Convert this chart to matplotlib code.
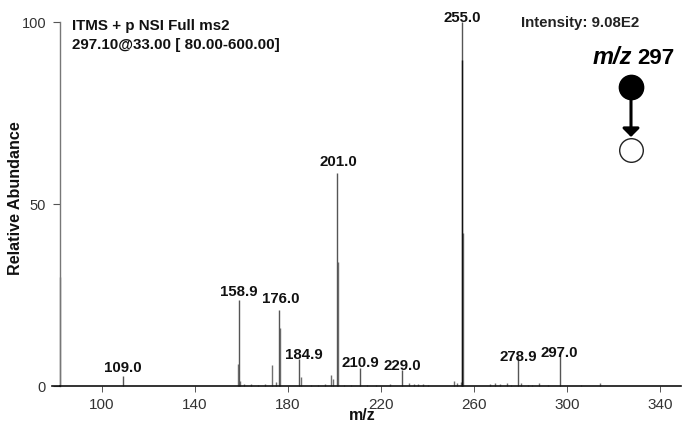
import matplotlib
matplotlib.use('Agg')
import matplotlib.pyplot as plt

plt.rcParams['font.family'] = ['Liberation Sans', 'DejaVu Sans']

W, H = 683, 425

# Picos principales (m/z, abundancia relativa)
main_mz = [109.0, 158.9, 176.0, 184.9, 201.0, 210.9, 229.0, 255.0, 278.9, 297.0]
main_int = [2.8, 23.5, 21.0, 7.5, 58.5, 5.0, 4.4, 100.0, 8.0, 9.2]
main_labels = ['109.0', '158.9', '176.0', '184.9', '201.0', '210.9', '229.0', '255.0', '278.9', '297.0']

# Picos secundarios
minor_mz = [82.0, 158.5, 159.5, 161, 164, 167, 170, 173.2, 175.0, 176.4, 185.6, 190, 193, 196,
            198.5, 199.2, 201.3, 204, 207, 214, 218, 224, 232, 234, 236, 238, 240, 251.4, 252.8,
            254.2, 255.3, 267, 269, 271, 274, 276, 280, 283, 285, 288, 292, 306, 314]
minor_int = [30.0, 6.0, 1.5, 0.5, 0.5, 0.4, 0.6, 5.8, 1.2, 16.0, 2.5, 0.4, 0.4, 0.5,
             3.0, 2.0, 34.0, 0.4, 0.4, 0.4, 0.3, 0.6, 0.7, 0.6, 0.5, 0.6, 0.4, 1.3, 0.8,
             1.2, 42.0, 0.6, 0.9, 0.6, 0.7, 0.4, 0.9, 0.4, 0.4, 0.7, 0.4, 0.4, 0.9]

# Parte oscura del pico base
dark_mz = [255.0]
dark_int = [89.5]

x_ticks = [100, 140, 180, 220, 260, 300, 340]
y_ticks = [0, 50, 100]


def fx(x):
    return x / W


def fy(y):
    return 1 - y / H


fig = plt.figure(figsize=(W / 100, H / 100), dpi=100)
ax = fig.add_axes([fx(60), fy(386), (681 - 60) / W, (386 - 22) / H])

ax.vlines(minor_mz, 0, minor_int, color='#707070', lw=1.0, clip_on=False)
ax.vlines(main_mz, 0, main_int, color='#555555', lw=1.0, clip_on=False)
ax.vlines(dark_mz, 0, dark_int, color='#111111', lw=1.0, clip_on=False)

ax.set_xlim(81.94, 349.0)
ax.set_ylim(0, 100)
ax.set_xticks(x_ticks)
ax.set_yticks(y_ticks)
ax.tick_params(axis='x', length=4.5, width=0.7, color='#555555', labelsize=11, labelcolor='#333333', pad=4)
ax.tick_params(axis='y', length=5, width=0.8, color='#555555', labelsize=10.5, labelcolor='#333333', pad=5)
for s in ['top', 'right']:
    ax.spines[s].set_visible(False)
ax.spines['left'].set_color('#777777')
ax.spines['left'].set_linewidth(1.0)
ax.spines['bottom'].set_color('#111111')
ax.spines['bottom'].set_linewidth(1.2)

# Linea base se extiende a la izquierda del eje
fig.add_artist(plt.Line2D([fx(52), fx(60)], [fy(386), fy(386)], color='#111111', lw=1.2))

# Etiquetas de picos, desplazamiento en pixeles desde la punta
offsets = [(0, 8), (0, 8), (2, 11), (4, 4), (2, 11), (0, 5), (0, 4), (0, 4), (0, 0), (-1, 0)]
for mz, val, lab, off in zip(main_mz, main_int, main_labels, offsets):
    ax.annotate(lab, (mz, val), xytext=off, textcoords='offset pixels', ha='center', va='center',
                fontsize=10.8, fontweight='bold', color='#111111', annotation_clip=False)

fig.text(fx(72), fy(26), 'ITMS + p NSI Full ms2', fontsize=10.9, fontweight='bold', va='center', color='#111111')
fig.text(fx(72), fy(45), '297.10@33.00 [ 80.00-600.00]', fontsize=10.9, fontweight='bold', va='center', color='#111111')
fig.text(fx(521), fy(23), 'Intensity: 9.08E2', fontsize=10.8, fontweight='bold', va='center', color='#222222')
fig.text(fx(16), fy(198), 'Relative Abundance', fontsize=11.6, fontweight='bold', rotation=90, ha='center', va='center', color='#111111')
fig.text(fx(362), fy(416), 'm/z', fontsize=11.5, fontweight='bold', ha='center', va='center', color='#111111')

fig.text(fx(593), fy(58), 'm/z', fontsize=17, fontweight='bold', style='italic', va='center', color='black')
fig.text(fx(637), fy(58), '297', fontsize=16, fontweight='bold', va='center', color='black')

# Esquema de fragmentacion
fig.add_artist(plt.Line2D([fx(631)], [fy(87)], marker='o', ms=17.5, mfc='black', mec='black', ls=''))
fig.add_artist(plt.Line2D([fx(631)], [fy(150)], marker='o', ms=17, mfc='white', mec='#222222', mew=1.0, ls=''))
ax.annotate('', xy=(fx(631), fy(137)), xytext=(fx(631), fy(95)), xycoords='figure fraction',
            textcoords='figure fraction',
            arrowprops=dict(arrowstyle='-|>,head_length=0.5,head_width=0.5', color='black', lw=2.2,
                            shrinkA=0, shrinkB=0))

fig.savefig('out.png', dpi=100)
